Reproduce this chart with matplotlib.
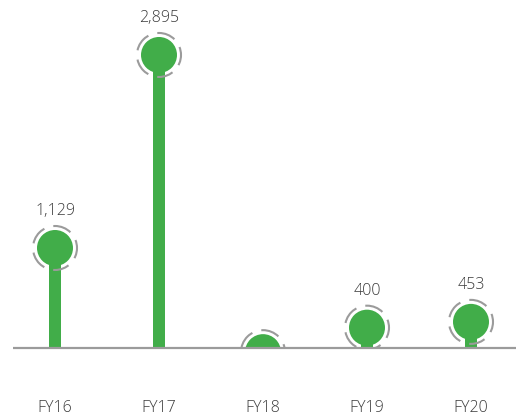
import matplotlib
matplotlib.use("Agg")
import matplotlib.pyplot as plt
from matplotlib.patches import Circle
from matplotlib.transforms import ScaledTranslation

categories = ["FY16", "FY17", "FY18", "FY19", "FY20"]
values = [1129, 2895, 176, 400, 453]
labels = ["1,129", "2,895", "176", "400", "453"]

GREEN = "#41ad49"
GRAY = "#9b9b9b"
TEXT = "#3a3a3a"

plt.rcParams['font.family'] = ['Open Sans', 'DejaVu Sans']

W, H, DPI = 520, 418, 100
fig = plt.figure(figsize=(W / DPI, H / DPI), dpi=DPI)
base_px = 70  # baseline from bottom in pixels
ax = fig.add_axes([0, base_px / H, 1, (H - base_px) / H])
ax.set_xlim(-55 / 104, (W - 55) / 104)
ax.set_ylim(214, 3398)
ax.axis('off')

x = list(range(len(categories)))
ax.bar(x, values, width=12 / 104, color=GREEN, zorder=2)

for i, v in enumerate(values):
    off = fig.dpi_scale_trans + ScaledTranslation(i, v, ax.transData)
    c = Circle((0, 0), 0.18, transform=off, facecolor=GREEN, edgecolor='none', zorder=3)
    ax.add_patch(c)
    c.set_clip_path(ax.patch)
    ring = Circle((0, 0), 0.22, transform=off, fill=False, edgecolor=GRAY,
                  linewidth=1.5, linestyle=(2, (9, 4.5)), zorder=4)
    ax.add_patch(ring)
    ring.set_clip_path(ax.patch)
    ax.annotate(labels[i], (i, v), xytext=(0, 37 * 0.72), textcoords='offset points',
                ha='center', va='center', fontsize=11.5, fontweight='light',
                color=TEXT, zorder=5)

# baseline
ax.plot([-42 / 104, (516 - 55) / 104], [214, 214], color=GRAY, linewidth=1.6,
        clip_on=False, zorder=6, solid_capstyle='butt')

# category labels
for i, cat in enumerate(categories):
    ax.annotate(cat, (i, 214), xytext=(0, -60 * 0.72), textcoords='offset points',
                ha='center', va='center', fontsize=11.5, fontweight='light', color=TEXT)

fig.savefig("out.png", dpi=DPI)
